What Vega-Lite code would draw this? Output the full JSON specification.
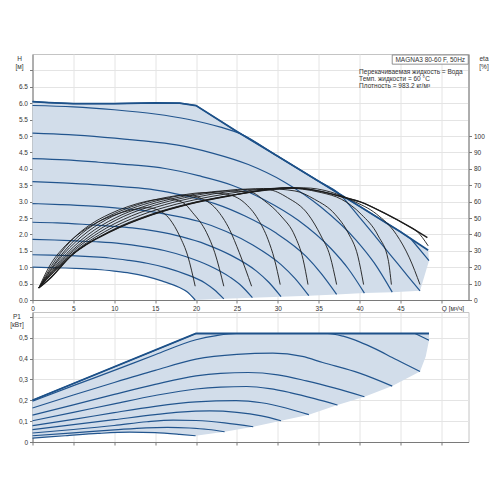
{
  "$schema": "https://vega.github.io/schema/vega-lite/v6.json",
  "padding": {"left": 8.5, "top": 53, "right": 2, "bottom": 2},
  "config": {
    "font": "Liberation Sans",
    "view": {"stroke": "#c4c4c4", "strokeWidth": 1},
    "axis": {
      "labelFontSize": 6.5, "labelColor": "#333333", "labelFlush": false, "labelOverlap": false,
      "titleFontSize": 6.5, "titleFontWeight": "normal", "titleColor": "#333333",
      "gridColor": "#e4e4e4", "gridWidth": 1,
      "domainColor": "#7a7a7a", "tickColor": "#7a7a7a", "tickSize": 3, "labelPadding": 2,
      "zindex": 1
    }
  },
  "datasets": {
    "hq": [
      {"s":"area","Q":0,"H":1},{"s":"area","Q":0,"H":6.05},{"s":"area","Q":2,"H":6.02},{"s":"area","Q":5,"H":5.99},{"s":"area","Q":10,"H":5.99},{"s":"area","Q":15,"H":6.01},{"s":"area","Q":18,"H":6.0},{"s":"area","Q":20,"H":5.93},{"s":"area","Q":25,"H":5.14},{"s":"area","Q":30,"H":4.38},{"s":"area","Q":35,"H":3.62},{"s":"area","Q":40,"H":2.86},{"s":"area","Q":45,"H":2.08},{"s":"area","Q":48.4,"H":1.52},{"s":"area","Q":48.5,"H":1.2},{"s":"area","Q":47.4,"H":0.28},{"s":"area","Q":44,"H":0.24},{"s":"area","Q":40.6,"H":0.21},{"s":"area","Q":37.2,"H":0.17},{"s":"area","Q":33.8,"H":0.13},{"s":"area","Q":30.4,"H":0.1},{"s":"area","Q":26.9,"H":0.07},{"s":"area","Q":23.4,"H":0.035},{"s":"area","Q":19.9,"H":0},{"s":"area","Q":18.9,"H":0.25},{"s":"area","Q":17.9,"H":0.39},{"s":"area","Q":15.9,"H":0.575},{"s":"area","Q":13.9,"H":0.72},{"s":"area","Q":11.9,"H":0.82},{"s":"area","Q":10,"H":0.88},{"s":"area","Q":8,"H":0.93},{"s":"area","Q":6,"H":0.955},{"s":"area","Q":4,"H":0.975},{"s":"area","Q":2,"H":0.99},{"s":"area","Q":0,"H":1},
      {"s":"max","Q":0,"H":6.05},{"s":"max","Q":2,"H":6.02},{"s":"max","Q":5,"H":5.99},{"s":"max","Q":10,"H":5.99},{"s":"max","Q":15,"H":6.01},{"s":"max","Q":18,"H":6.0},{"s":"max","Q":20,"H":5.93},{"s":"max","Q":25,"H":5.14},{"s":"max","Q":30,"H":4.38},{"s":"max","Q":35,"H":3.62},{"s":"max","Q":40,"H":2.86},{"s":"max","Q":45,"H":2.08},{"s":"max","Q":48.4,"H":1.52},
      {"s":"A","Q":0,"H":6.05},{"s":"A","Q":2,"H":6.02},{"s":"A","Q":5,"H":5.99},{"s":"A","Q":10,"H":5.99},{"s":"A","Q":15,"H":6.01},{"s":"A","Q":18,"H":6.0},{"s":"A","Q":20,"H":5.93},{"s":"A","Q":25,"H":5.14},{"s":"A","Q":30,"H":4.38},{"s":"A","Q":35,"H":3.62},{"s":"A","Q":40,"H":2.86},{"s":"A","Q":45,"H":2.08},{"s":"A","Q":46.3,"H":1.86},{"s":"A","Q":48.5,"H":1.2},
      {"s":"B","Q":0,"H":5.93},{"s":"B","Q":5,"H":5.89},{"s":"B","Q":10,"H":5.8},{"s":"B","Q":15,"H":5.67},{"s":"B","Q":19,"H":5.51},{"s":"B","Q":23,"H":5.27},{"s":"B","Q":25.5,"H":5.06},{"s":"B","Q":30,"H":4.38},{"s":"B","Q":35,"H":3.62},{"s":"B","Q":37.4,"H":3.26},{"s":"B","Q":40,"H":2.52},{"s":"B","Q":42,"H":1.92},{"s":"B","Q":44,"H":1.31},{"s":"B","Q":46,"H":0.7},{"s":"B","Q":47.4,"H":0.28},
      {"s":"C","Q":0,"H":5.09},{"s":"C","Q":4.4,"H":5.04},{"s":"C","Q":8.8,"H":4.96},{"s":"C","Q":13.2,"H":4.86},{"s":"C","Q":17.6,"H":4.73},{"s":"C","Q":22,"H":4.48},{"s":"C","Q":26.4,"H":4.13},{"s":"C","Q":30.8,"H":3.6},{"s":"C","Q":35.2,"H":2.85},{"s":"C","Q":39.6,"H":1.82},{"s":"C","Q":41.8,"H":1.13},{"s":"C","Q":44,"H":0.24},
      {"s":"D","Q":0,"H":4.31},{"s":"D","Q":4.1,"H":4.27},{"s":"D","Q":8.1,"H":4.2},{"s":"D","Q":12.2,"H":4.12},{"s":"D","Q":16.2,"H":4.01},{"s":"D","Q":20.3,"H":3.79},{"s":"D","Q":24.4,"H":3.5},{"s":"D","Q":28.4,"H":3.05},{"s":"D","Q":32.5,"H":2.43},{"s":"D","Q":36.5,"H":1.57},{"s":"D","Q":38.6,"H":0.96},{"s":"D","Q":40.6,"H":0.21},
      {"s":"E","Q":0,"H":3.61},{"s":"E","Q":3.7,"H":3.57},{"s":"E","Q":7.4,"H":3.52},{"s":"E","Q":11.2,"H":3.45},{"s":"E","Q":14.9,"H":3.36},{"s":"E","Q":18.6,"H":3.18},{"s":"E","Q":22.3,"H":2.94},{"s":"E","Q":26,"H":2.56},{"s":"E","Q":29.8,"H":2.04},{"s":"E","Q":33.5,"H":1.32},{"s":"E","Q":35.3,"H":0.81},{"s":"E","Q":37.2,"H":0.17},
      {"s":"F","Q":0,"H":2.94},{"s":"F","Q":3.4,"H":2.91},{"s":"F","Q":6.8,"H":2.87},{"s":"F","Q":10.1,"H":2.81},{"s":"F","Q":13.5,"H":2.73},{"s":"F","Q":16.9,"H":2.59},{"s":"F","Q":20.3,"H":2.4},{"s":"F","Q":23.7,"H":2.09},{"s":"F","Q":27,"H":1.67},{"s":"F","Q":30.4,"H":1.08},{"s":"F","Q":32.1,"H":0.66},{"s":"F","Q":33.8,"H":0.13},
      {"s":"G","Q":0,"H":2.37},{"s":"G","Q":3,"H":2.35},{"s":"G","Q":6.1,"H":2.31},{"s":"G","Q":9.1,"H":2.26},{"s":"G","Q":12.2,"H":2.2},{"s":"G","Q":15.2,"H":2.09},{"s":"G","Q":18.2,"H":1.93},{"s":"G","Q":21.3,"H":1.69},{"s":"G","Q":24.3,"H":1.36},{"s":"G","Q":27.4,"H":0.88},{"s":"G","Q":28.9,"H":0.54},{"s":"G","Q":30.4,"H":0.1},
      {"s":"H","Q":0,"H":1.85},{"s":"H","Q":2.7,"H":1.83},{"s":"H","Q":5.4,"H":1.8},{"s":"H","Q":8.1,"H":1.77},{"s":"H","Q":10.8,"H":1.72},{"s":"H","Q":13.5,"H":1.63},{"s":"H","Q":16.1,"H":1.51},{"s":"H","Q":18.8,"H":1.32},{"s":"H","Q":21.5,"H":1.06},{"s":"H","Q":24.2,"H":0.69},{"s":"H","Q":25.6,"H":0.42},{"s":"H","Q":26.9,"H":0.07},
      {"s":"I","Q":0,"H":1.38},{"s":"I","Q":2.3,"H":1.37},{"s":"I","Q":4.7,"H":1.35},{"s":"I","Q":7,"H":1.32},{"s":"I","Q":9.4,"H":1.28},{"s":"I","Q":11.7,"H":1.21},{"s":"I","Q":14,"H":1.12},{"s":"I","Q":16.4,"H":0.98},{"s":"I","Q":18.7,"H":0.79},{"s":"I","Q":21.1,"H":0.52},{"s":"I","Q":22.2,"H":0.32},{"s":"I","Q":23.4,"H":0.035},
      {"s":"J","Q":0,"H":1},{"s":"J","Q":2,"H":0.99},{"s":"J","Q":4,"H":0.975},{"s":"J","Q":6,"H":0.955},{"s":"J","Q":8,"H":0.93},{"s":"J","Q":10,"H":0.88},{"s":"J","Q":11.9,"H":0.82},{"s":"J","Q":13.9,"H":0.72},{"s":"J","Q":15.9,"H":0.575},{"s":"J","Q":17.9,"H":0.39},{"s":"J","Q":18.9,"H":0.25},{"s":"J","Q":19.9,"H":0}
    ],
    "eta": [
      {"s":"J","Q":0.77,"E":7.3},{"s":"J","Q":2,"E":20},{"s":"J","Q":4,"E":33},{"s":"J","Q":6,"E":41.5},{"s":"J","Q":8,"E":47.6},{"s":"J","Q":10,"E":51.8},{"s":"J","Q":12,"E":54.8},{"s":"J","Q":14,"E":56.3},{"s":"J","Q":15.1,"E":55.3},{"s":"J","Q":16.8,"E":49.2},{"s":"J","Q":18,"E":39},{"s":"J","Q":19,"E":26.7},{"s":"J","Q":19.9,"E":8.4},
      {"s":"I","Q":0.77,"E":7.3},{"s":"I","Q":2.34,"E":21},{"s":"I","Q":4.68,"E":36},{"s":"I","Q":7.02,"E":45.8},{"s":"I","Q":9.36,"E":52.3},{"s":"I","Q":11.7,"E":57},{"s":"I","Q":14.04,"E":60.3},{"s":"I","Q":16.4,"E":61.8},{"s":"I","Q":18.4,"E":59.4},{"s":"I","Q":19.6,"E":53.2},{"s":"I","Q":21.3,"E":41},{"s":"I","Q":22.3,"E":28.8},{"s":"I","Q":23.4,"E":8.4},
      {"s":"H","Q":0.77,"E":7.3},{"s":"H","Q":2.68,"E":22},{"s":"H","Q":5.36,"E":37.6},{"s":"H","Q":8.04,"E":47.6},{"s":"H","Q":10.72,"E":54.2},{"s":"H","Q":13.4,"E":59},{"s":"H","Q":16.08,"E":62.3},{"s":"H","Q":18.76,"E":64},{"s":"H","Q":20.4,"E":62.4},{"s":"H","Q":22.5,"E":55.3},{"s":"H","Q":24.1,"E":43},{"s":"H","Q":25.3,"E":28.8},{"s":"H","Q":26.8,"E":8.4},
      {"s":"G","Q":0.77,"E":7.3},{"s":"G","Q":3.02,"E":23.3},{"s":"G","Q":6.04,"E":38.8},{"s":"G","Q":9.06,"E":49.1},{"s":"G","Q":12.08,"E":55.7},{"s":"G","Q":15.1,"E":60.4},{"s":"G","Q":18.12,"E":63.8},{"s":"G","Q":21.14,"E":65.5},{"s":"G","Q":23.6,"E":64.6},{"s":"G","Q":25.9,"E":59.4},{"s":"G","Q":27.6,"E":49.2},{"s":"G","Q":28.8,"E":37},{"s":"G","Q":29.6,"E":24.7},{"s":"G","Q":30.3,"E":9.4},
      {"s":"F","Q":0.77,"E":7.3},{"s":"F","Q":3.37,"E":24},{"s":"F","Q":6.74,"E":39.7},{"s":"F","Q":10.11,"E":50},{"s":"F","Q":13.48,"E":56.8},{"s":"F","Q":16.85,"E":61.5},{"s":"F","Q":20.22,"E":64.8},{"s":"F","Q":23.59,"E":66.5},{"s":"F","Q":26.8,"E":65.5},{"s":"F","Q":28.4,"E":60.4},{"s":"F","Q":30.4,"E":51.2},{"s":"F","Q":32.1,"E":39},{"s":"F","Q":33.1,"E":24.7},{"s":"F","Q":33.7,"E":9.4},
      {"s":"E","Q":0.77,"E":7.3},{"s":"E","Q":3.72,"E":24.8},{"s":"E","Q":7.44,"E":40.5},{"s":"E","Q":11.16,"E":51},{"s":"E","Q":14.88,"E":57.7},{"s":"E","Q":18.6,"E":62.4},{"s":"E","Q":22.32,"E":65.8},{"s":"E","Q":26.04,"E":67.6},{"s":"E","Q":28.8,"E":67.3},{"s":"E","Q":31.2,"E":62.4},{"s":"E","Q":33.7,"E":52.3},{"s":"E","Q":35.3,"E":39},{"s":"E","Q":36.4,"E":26.7},{"s":"E","Q":37.2,"E":9.4},
      {"s":"D","Q":0.77,"E":7.3},{"s":"D","Q":4.04,"E":25.6},{"s":"D","Q":8.08,"E":41},{"s":"D","Q":12.12,"E":51.3},{"s":"D","Q":16.16,"E":58.1},{"s":"D","Q":20.2,"E":62.9},{"s":"D","Q":24.24,"E":66.3},{"s":"D","Q":28.28,"E":68},{"s":"D","Q":32.1,"E":66.5},{"s":"D","Q":34.5,"E":61.4},{"s":"D","Q":37,"E":52.3},{"s":"D","Q":38.6,"E":41},{"s":"D","Q":39.8,"E":26.7},{"s":"D","Q":40.5,"E":9.4},
      {"s":"C","Q":0.77,"E":7.3},{"s":"C","Q":4.39,"E":26.3},{"s":"C","Q":8.78,"E":41.5},{"s":"C","Q":13.17,"E":51.6},{"s":"C","Q":17.56,"E":58.4},{"s":"C","Q":21.95,"E":63.2},{"s":"C","Q":26.34,"E":66.6},{"s":"C","Q":30.73,"E":68.3},{"s":"C","Q":35.3,"E":65.5},{"s":"C","Q":37.8,"E":61.4},{"s":"C","Q":40.2,"E":52.3},{"s":"C","Q":42.3,"E":39},{"s":"C","Q":43.5,"E":24.7},{"s":"C","Q":43.9,"E":9.4},
      {"s":"B","Q":0.77,"E":7.3},{"s":"B","Q":4.74,"E":27},{"s":"B","Q":9.48,"E":42},{"s":"B","Q":14.22,"E":51.8},{"s":"B","Q":18.96,"E":58.6},{"s":"B","Q":23.7,"E":63.4},{"s":"B","Q":28.44,"E":66.8},{"s":"B","Q":33.18,"E":68.4},{"s":"B","Q":36.5,"E":65.8},{"s":"B","Q":39.2,"E":60.4},{"s":"B","Q":42.1,"E":52.3},{"s":"B","Q":44.5,"E":40},{"s":"B","Q":46.1,"E":25.7},{"s":"B","Q":47.4,"E":9.4},
      {"s":"A","Q":0.77,"E":7.3},{"s":"A","Q":2,"E":12.5},{"s":"A","Q":4.83,"E":27.5},{"s":"A","Q":9.66,"E":42},{"s":"A","Q":14.49,"E":51.8},{"s":"A","Q":19.32,"E":58.7},{"s":"A","Q":24.15,"E":63.6},{"s":"A","Q":28.98,"E":67.5},{"s":"A","Q":31.5,"E":68.4},{"s":"A","Q":34.1,"E":67.3},{"s":"A","Q":38.2,"E":62.5},{"s":"A","Q":40,"E":60},{"s":"A","Q":43.3,"E":52.3},{"s":"A","Q":46,"E":45},{"s":"A","Q":47,"E":42},{"s":"A","Q":48.4,"E":33},
      {"s":"max","Q":0.77,"E":7.3},{"s":"max","Q":2,"E":12.5},{"s":"max","Q":4.83,"E":27.5},{"s":"max","Q":9.66,"E":42},{"s":"max","Q":14.49,"E":51.8},{"s":"max","Q":19.32,"E":58.7},{"s":"max","Q":24.15,"E":63.6},{"s":"max","Q":28.98,"E":67.5},{"s":"max","Q":31.5,"E":68.4},{"s":"max","Q":34.1,"E":67.3},{"s":"max","Q":38.2,"E":62.5},{"s":"max","Q":40,"E":60},{"s":"max","Q":43.3,"E":52.3},{"s":"max","Q":46,"E":45},{"s":"max","Q":48.3,"E":38}
    ],
    "pq": [
      {"s":"area","Q":0,"P":0.019},{"s":"area","Q":0,"P":0.2},{"s":"area","Q":20,"P":0.52},{"s":"area","Q":48.5,"P":0.52},{"s":"area","Q":48.5,"P":0.488},{"s":"area","Q":48.1,"P":0.41},{"s":"area","Q":47.4,"P":0.338},{"s":"area","Q":44,"P":0.268},{"s":"area","Q":40.6,"P":0.217},{"s":"area","Q":37.3,"P":0.177},{"s":"area","Q":33.8,"P":0.131},{"s":"area","Q":30.4,"P":0.102},{"s":"area","Q":27,"P":0.073},{"s":"area","Q":23.5,"P":0.049},{"s":"area","Q":19.95,"P":0.03},{"s":"area","Q":18,"P":0.037},{"s":"area","Q":15,"P":0.045},{"s":"area","Q":11.9,"P":0.047},{"s":"area","Q":8,"P":0.041},{"s":"area","Q":4,"P":0.03},{"s":"area","Q":0,"P":0.019},
      {"s":"max","Q":0,"P":0.2},{"s":"max","Q":20,"P":0.52},{"s":"max","Q":48.5,"P":0.52},
      {"s":"A","Q":0,"P":0.2},{"s":"A","Q":20,"P":0.52},{"s":"A","Q":46.8,"P":0.52},{"s":"A","Q":48.5,"P":0.488},
      {"s":"B","Q":0,"P":0.195},{"s":"B","Q":5,"P":0.27},{"s":"B","Q":10,"P":0.343},{"s":"B","Q":15,"P":0.418},{"s":"B","Q":20,"P":0.49},{"s":"B","Q":22.5,"P":0.51},{"s":"B","Q":24.9,"P":0.52},{"s":"B","Q":36.1,"P":0.52},{"s":"B","Q":38,"P":0.507},{"s":"B","Q":40,"P":0.48},{"s":"B","Q":42,"P":0.445},{"s":"B","Q":44,"P":0.405},{"s":"B","Q":46,"P":0.365},{"s":"B","Q":47.4,"P":0.338},
      {"s":"C","Q":0,"P":0.163},{"s":"C","Q":5,"P":0.225},{"s":"C","Q":10,"P":0.285},{"s":"C","Q":15,"P":0.343},{"s":"C","Q":20,"P":0.397},{"s":"C","Q":25,"P":0.42},{"s":"C","Q":29.4,"P":0.426},{"s":"C","Q":33,"P":0.41},{"s":"C","Q":35.5,"P":0.381},{"s":"C","Q":40,"P":0.33},{"s":"C","Q":44,"P":0.268},
      {"s":"D","Q":0,"P":0.129},{"s":"D","Q":5,"P":0.178},{"s":"D","Q":10,"P":0.228},{"s":"D","Q":15,"P":0.276},{"s":"D","Q":20,"P":0.317},{"s":"D","Q":23,"P":0.329},{"s":"D","Q":26.4,"P":0.333},{"s":"D","Q":30,"P":0.322},{"s":"D","Q":33.5,"P":0.293},{"s":"D","Q":37,"P":0.258},{"s":"D","Q":40.6,"P":0.217},
      {"s":"E","Q":0,"P":0.102},{"s":"E","Q":5,"P":0.142},{"s":"E","Q":10,"P":0.183},{"s":"E","Q":15,"P":0.223},{"s":"E","Q":20,"P":0.254},{"s":"E","Q":23,"P":0.263},{"s":"E","Q":26.2,"P":0.266},{"s":"E","Q":29,"P":0.256},{"s":"E","Q":31.5,"P":0.237},{"s":"E","Q":34.5,"P":0.208},{"s":"E","Q":37.3,"P":0.177},
      {"s":"F","Q":0,"P":0.078},{"s":"F","Q":5,"P":0.108},{"s":"F","Q":10,"P":0.141},{"s":"F","Q":15,"P":0.171},{"s":"F","Q":20,"P":0.192},{"s":"F","Q":24.9,"P":0.198},{"s":"F","Q":28,"P":0.188},{"s":"F","Q":31,"P":0.163},{"s":"F","Q":33.8,"P":0.131},
      {"s":"G","Q":0,"P":0.059},{"s":"G","Q":5,"P":0.083},{"s":"G","Q":10,"P":0.107},{"s":"G","Q":15,"P":0.131},{"s":"G","Q":18,"P":0.143},{"s":"G","Q":21.7,"P":0.149},{"s":"G","Q":25,"P":0.142},{"s":"G","Q":28,"P":0.125},{"s":"G","Q":30.4,"P":0.102},
      {"s":"H","Q":0,"P":0.043},{"s":"H","Q":5,"P":0.06},{"s":"H","Q":10,"P":0.079},{"s":"H","Q":14,"P":0.097},{"s":"H","Q":17.2,"P":0.105},{"s":"H","Q":20,"P":0.103},{"s":"H","Q":23.5,"P":0.092},{"s":"H","Q":27,"P":0.073},
      {"s":"I","Q":0,"P":0.03},{"s":"I","Q":5,"P":0.044},{"s":"I","Q":10,"P":0.058},{"s":"I","Q":13.9,"P":0.068},{"s":"I","Q":16.5,"P":0.07},{"s":"I","Q":19.2,"P":0.067},{"s":"I","Q":21.5,"P":0.06},{"s":"I","Q":23.5,"P":0.049},
      {"s":"J","Q":0,"P":0.019},{"s":"J","Q":4,"P":0.03},{"s":"J","Q":8,"P":0.041},{"s":"J","Q":11.9,"P":0.047},{"s":"J","Q":15,"P":0.045},{"s":"J","Q":18,"P":0.037},{"s":"J","Q":19.95,"P":0.03}
    ]
  },
  "spacing": 12,
  "bounds": "flush",
  "vconcat": [
    {
      "width": 436,
      "height": 246,
      "resolve": {"scale": {"y": "independent"}},
      "layer": [
        {
          "layer": [
            {
              "data": {"name": "hq"},
              "transform": [{"filter": "datum.s == 'area'"}],
              "mark": {"type": "line", "fill": "#d2ddea", "strokeWidth": 0, "interpolate": "linear"},
              "encoding": {
                "x": {"field": "Q", "type": "quantitative", "title": null, "scale": {"domain": [0, 53.33], "nice": false},
                  "axis": {"values": [0, 5, 10, 15, 20, 25, 30, 35, 40, 45, 50], "labelExpr": "datum.value == 50 ? 'Q [м³/ч]' : datum.label", "labelAlign": {"condition": {"test": "datum.value == 50", "value": "left"}, "value": "center"}}},
                "y": {"field": "H", "type": "quantitative", "title": ["H", "[м]"], "scale": {"domain": [0, 7.5], "nice": false},
                  "axis": {"values": [0, 0.5, 1, 1.5, 2, 2.5, 3, 3.5, 4, 4.5, 5, 5.5, 6, 6.5, 7], "labelExpr": "datum.value > 6.6 ? '' : format(datum.value, '.1f')", "titleAngle": 0, "titleAlign": "center", "titleBaseline": "top", "titleX": -13.5, "titleY": 1.5, "titleLineHeight": 8}},
                "order": {"value": null}
              }
            },
            {
              "data": {"name": "hq"},
              "transform": [{"filter": "datum.s != 'area' && datum.s != 'max' && datum.s != 'A'"}],
              "mark": {"type": "line", "color": "#22558e", "strokeWidth": 1.2, "interpolate": "monotone"},
              "encoding": {
                "x": {"field": "Q", "type": "quantitative", "title": null, "scale": {"domain": [0, 53.33], "nice": false},
                  "axis": {"values": [0, 5, 10, 15, 20, 25, 30, 35, 40, 45, 50], "labelExpr": "datum.value == 50 ? 'Q [м³/ч]' : datum.label", "labelAlign": {"condition": {"test": "datum.value == 50", "value": "left"}, "value": "center"}}},
                "y": {"field": "H", "type": "quantitative", "title": ["H", "[м]"], "scale": {"domain": [0, 7.5], "nice": false},
                  "axis": {"values": [0, 0.5, 1, 1.5, 2, 2.5, 3, 3.5, 4, 4.5, 5, 5.5, 6, 6.5, 7], "labelExpr": "datum.value > 6.6 ? '' : format(datum.value, '.1f')", "titleAngle": 0, "titleAlign": "center", "titleBaseline": "top", "titleX": -13.5, "titleY": 1.5, "titleLineHeight": 8}},
                "detail": {"field": "s"}
              }
            },
            {
              "data": {"name": "hq"},
              "transform": [{"filter": "datum.s == 'max' || datum.s == 'A'"}],
              "mark": {"type": "line", "color": "#1d5189", "interpolate": "linear"},
              "encoding": {
                "x": {"field": "Q", "type": "quantitative", "title": null, "scale": {"domain": [0, 53.33], "nice": false},
                  "axis": {"values": [0, 5, 10, 15, 20, 25, 30, 35, 40, 45, 50], "labelExpr": "datum.value == 50 ? 'Q [м³/ч]' : datum.label", "labelAlign": {"condition": {"test": "datum.value == 50", "value": "left"}, "value": "center"}}},
                "y": {"field": "H", "type": "quantitative", "title": ["H", "[м]"], "scale": {"domain": [0, 7.5], "nice": false},
                  "axis": {"values": [0, 0.5, 1, 1.5, 2, 2.5, 3, 3.5, 4, 4.5, 5, 5.5, 6, 6.5, 7], "labelExpr": "datum.value > 6.6 ? '' : format(datum.value, '.1f')", "titleAngle": 0, "titleAlign": "center", "titleBaseline": "top", "titleX": -13.5, "titleY": 1.5, "titleLineHeight": 8}},
                "detail": {"field": "s"},
                "strokeWidth": {"condition": {"test": "datum.s == 'max'", "value": 1.8}, "value": 1.2}
              }
            },
            {
              "data": {"values": [{"t": "box"}]},
              "mark": {"type": "rect", "fill": "white", "stroke": "#777777", "strokeWidth": 0.8},
              "encoding": {
                "x": {"datum": 44.0, "type": "quantitative", "title": null, "scale": {"domain": [0, 53.33], "nice": false},
                  "axis": {"values": [0, 5, 10, 15, 20, 25, 30, 35, 40, 45, 50], "labelExpr": "datum.value == 50 ? 'Q [м³/ч]' : datum.label", "labelAlign": {"condition": {"test": "datum.value == 50", "value": "left"}, "value": "center"}}},
                "x2": {"datum": 53.3},
                "y": {"datum": 7.47, "type": "quantitative", "title": ["H", "[м]"], "scale": {"domain": [0, 7.5], "nice": false},
                  "axis": {"values": [0, 0.5, 1, 1.5, 2, 2.5, 3, 3.5, 4, 4.5, 5, 5.5, 6, 6.5, 7], "labelExpr": "datum.value > 6.6 ? '' : format(datum.value, '.1f')", "titleAngle": 0, "titleAlign": "center", "titleBaseline": "top", "titleX": -13.5, "titleY": 1.5, "titleLineHeight": 8}},
                "y2": {"datum": 7.19}
              }
            },
            {
              "data": {"values": [{"t": "MAGNA3 80-60 F, 50Hz"}]},
              "mark": {"type": "text", "fontSize": 6.5, "color": "#333333", "align": "center", "baseline": "middle"},
              "encoding": {
                "x": {"datum": 48.65, "type": "quantitative", "title": null, "scale": {"domain": [0, 53.33], "nice": false},
                  "axis": {"values": [0, 5, 10, 15, 20, 25, 30, 35, 40, 45, 50], "labelExpr": "datum.value == 50 ? 'Q [м³/ч]' : datum.label", "labelAlign": {"condition": {"test": "datum.value == 50", "value": "left"}, "value": "center"}}},
                "y": {"datum": 7.32, "type": "quantitative", "title": ["H", "[м]"], "scale": {"domain": [0, 7.5], "nice": false},
                  "axis": {"values": [0, 0.5, 1, 1.5, 2, 2.5, 3, 3.5, 4, 4.5, 5, 5.5, 6, 6.5, 7], "labelExpr": "datum.value > 6.6 ? '' : format(datum.value, '.1f')", "titleAngle": 0, "titleAlign": "center", "titleBaseline": "top", "titleX": -13.5, "titleY": 1.5, "titleLineHeight": 8}},
                "text": {"field": "t"}
              }
            },
            {
              "data": {"values": [
                {"t": "Перекачиваемая жидкость = Вода", "k": "l1"},
                {"t": "Темп. жидкости = 60 °C", "k": "l2"},
                {"t": "Плотность = 983.2 кг/м³", "k": "l3"}
              ]},
              "mark": {"type": "text", "fontSize": 6.5, "color": "#333333", "align": "left", "baseline": "middle"},
              "encoding": {
                "x": {"datum": 39.95, "type": "quantitative", "title": null, "scale": {"domain": [0, 53.33], "nice": false},
                  "axis": {"values": [0, 5, 10, 15, 20, 25, 30, 35, 40, 45, 50], "labelExpr": "datum.value == 50 ? 'Q [м³/ч]' : datum.label", "labelAlign": {"condition": {"test": "datum.value == 50", "value": "left"}, "value": "center"}}},
                "y": {"datum": 6.96, "type": "quantitative", "title": ["H", "[м]"], "scale": {"domain": [0, 7.5], "nice": false},
                  "axis": {"values": [0, 0.5, 1, 1.5, 2, 2.5, 3, 3.5, 4, 4.5, 5, 5.5, 6, 6.5, 7], "labelExpr": "datum.value > 6.6 ? '' : format(datum.value, '.1f')", "titleAngle": 0, "titleAlign": "center", "titleBaseline": "top", "titleX": -13.5, "titleY": 1.5, "titleLineHeight": 8}},
                "yOffset": {"field": "k", "type": "nominal", "scale": {"type": "point", "domain": ["l1", "l2", "l3"], "range": [0, 14.6], "padding": 0}},
                "text": {"field": "t"}
              }
            }
          ]
        },
        {
          "data": {"name": "eta"},
          "mark": {"type": "line", "color": "#1b1b1b", "interpolate": "monotone"},
          "encoding": {
            "x": {"field": "Q", "type": "quantitative", "title": null, "scale": {"domain": [0, 53.33], "nice": false},
              "axis": {"values": [0, 5, 10, 15, 20, 25, 30, 35, 40, 45, 50], "labelExpr": "datum.value == 50 ? 'Q [м³/ч]' : datum.label", "labelAlign": {"condition": {"test": "datum.value == 50", "value": "left"}, "value": "center"}}},
            "y": {
              "field": "E", "type": "quantitative", "title": ["eta", "[%]"],
              "scale": {"domain": [0, 150], "nice": false},
              "axis": {
                "orient": "right", "grid": false,
                "values": [0, 10, 20, 30, 40, 50, 60, 70, 80, 90, 100],
                "labelAlign": "left",
                "titleAngle": 0, "titleAlign": "center", "titleBaseline": "top",
                "titleX": 15, "titleY": 1.5, "titleLineHeight": 8
              }
            },
            "detail": {"field": "s"},
            "strokeWidth": {"condition": {"test": "datum.s == 'max'", "value": 1.4}, "value": 0.9}
          }
        }
      ]
    },
    {
      "width": 436,
      "height": 130,
      "data": {"name": "pq"},
      "encoding": {
        "x": {
          "field": "Q", "type": "quantitative", "title": null,
          "scale": {"domain": [0, 53.33], "nice": false},
          "axis": {"values": [0, 5, 10, 15, 20, 25, 30, 35, 40, 45, 50], "labels": false}
        },
        "y": {
          "field": "P", "type": "quantitative",
          "scale": {"domain": [0, 0.623], "nice": false},
          "axis": {
            "values": [0, 0.1, 0.2, 0.3, 0.4, 0.5, 0.6],
            "labelExpr": "datum.value > 0.55 ? '' : datum.value == 0 ? '0' : replace(format(datum.value, '.1f'), '.', ',')",
            "title": ["P1", "[кВт]"], "titleAngle": 0, "titleAlign": "center", "titleBaseline": "top",
            "titleX": -16, "titleY": 1.5, "titleLineHeight": 8
          }
        }
      },
      "layer": [
        {
          "transform": [{"filter": "datum.s == 'area'"}],
          "mark": {"type": "line", "fill": "#d2ddea", "strokeWidth": 0, "interpolate": "linear"},
          "encoding": {"order": {"value": null}}
        },
        {
          "transform": [{"filter": "datum.s != 'area' && datum.s != 'max' && datum.s != 'A'"}],
          "mark": {"type": "line", "color": "#22558e", "strokeWidth": 1.2, "interpolate": "monotone"},
          "encoding": {"detail": {"field": "s"}}
        },
        {
          "transform": [{"filter": "datum.s == 'max' || datum.s == 'A'"}],
          "mark": {"type": "line", "color": "#1d5189", "interpolate": "linear"},
          "encoding": {
            "detail": {"field": "s"},
            "strokeWidth": {"condition": {"test": "datum.s == 'max'", "value": 1.8}, "value": 1.2}
          }
        }
      ]
    }
  ]
}
